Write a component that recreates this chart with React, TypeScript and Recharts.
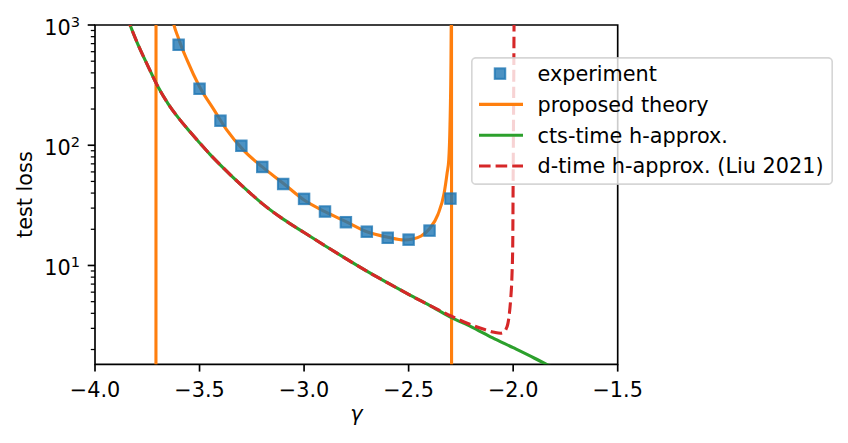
import React from 'react';
import { ComposedChart, Line, Scatter, XAxis, YAxis, ReferenceArea, Legend } from 'recharts';

const FONT = '"DejaVu Sans", sans-serif';
const FS = 20.8;

// experiment (squares)
const expGamma = [-3.6, -3.5, -3.4, -3.3, -3.2, -3.1, -3.0, -2.9, -2.8, -2.7, -2.6, -2.5, -2.4, -2.3];
const expLoss = [685, 295, 160, 99, 66, 47.6, 35.8, 28.1, 22.9, 19.1, 17.0, 16.4, 19.5, 36];

// proposed theory (poles near -3.708 and -2.295)
const theoryGamma = [
  -3.7085, -3.708, -3.63, -3.6, -3.56, -3.5, -3.43, -3.37, -3.29, -3.2, -3.1, -3.0, -2.9, -2.8,
  -2.7, -2.6, -2.52, -2.48, -2.44, -2.4, -2.36, -2.33, -2.316, -2.308, -2.302, -2.298, -2.296,
  -2.295, -2.2945,
];
const theoryLoss = [
  0.5, 50000, 1150, 770, 512, 307, 196, 134, 91, 66, 48.3, 35, 28, 23.2,
  19.1, 17.2, 16.3, 16.6, 17.6, 20.2, 26.5, 40, 58.5, 75.5, 150, 400, 1200,
  50000, 0.5,
];

// cts-time h-approx.
const ctsGamma = [
  -3.85, -3.8, -3.75, -3.7, -3.65, -3.6, -3.55, -3.5, -3.45, -3.4, -3.35, -3.3, -3.25, -3.2,
  -3.1, -3.0, -2.9, -2.8, -2.7, -2.6, -2.5, -2.4, -2.3, -2.2, -2.1, -2.0, -1.9, -1.8,
];
const ctsLoss = [
  1200, 725, 468, 309, 221, 168, 132, 105, 84, 68.4, 56.2, 46.6, 38.9, 32.7,
  24.3, 18.8, 14.6, 11.4, 8.97, 7.16, 5.75, 4.66, 3.72, 3.09, 2.51, 2.07, 1.7, 1.38,
];

// d-time h-approx. (Liu 2021)
const dtGamma = [
  -3.85, -3.8, -3.75, -3.7, -3.65, -3.6, -3.55, -3.5, -3.45, -3.4, -3.35, -3.3, -3.25, -3.2,
  -3.1, -3.0, -2.9, -2.8, -2.7, -2.6, -2.5, -2.4, -2.35, -2.3, -2.22, -2.14, -2.09, -2.06,
  -2.045, -2.036, -2.025, -2.018, -2.012, -2.006, -2.002, -2.0, -1.997, -1.995,
];
const dtLoss = [
  1200, 725, 468, 309, 221, 168, 132, 105, 84, 68.4, 56.2, 46.6, 38.9, 32.7,
  24.3, 18.8, 14.6, 11.4, 8.97, 7.16, 5.75, 4.66, 4.22, 3.82, 3.31, 2.95, 2.78, 2.73,
  2.78, 2.91, 3.3, 4.0, 5.2, 8, 15, 55, 400, 2000,
];

const xTicks = [-4.0, -3.5, -3.0, -2.5, -2.0, -1.5];
const yMajorTicks = [10, 100, 1000];
const yMinorTicks = [2, 3, 4, 5, 6, 7, 8, 9, 20, 30, 40, 50, 60, 70, 80, 90, 200, 300, 400, 500, 600, 700, 800, 900];
const yTicks = [...yMinorTicks, ...yMajorTicks].sort((a, b) => a - b);
const yExponent: Record<number, string> = { 10: '1', 100: '2', 1000: '3' };

const zip = (xs: number[], ys: number[]) => xs.map((x, i) => ({ x, y: ys[i] }));
const expData = zip(expGamma, expLoss);
const theoryData = zip(theoryGamma, theoryLoss);
const ctsData = zip(ctsGamma, ctsLoss);
const dtData = zip(dtGamma, dtLoss);

const BLUE = '#1f77b4';
const ORANGE = '#ff7f0e';
const GREEN = '#2ca02c';
const RED = '#d62728';
const LW = 3.1;
const DASH = '11.6 5';

const XTick = (props: any) => {
  const { x, y, payload } = props;
  const label = Number(payload.value).toFixed(1).replace('-', '\u2212');
  return (
    <g>
      <line x1={x} x2={x} y1={y} y2={y + 7.3} stroke="#000" strokeWidth={1.67} />
      <text x={x} y={y + 32.8} textAnchor="middle" fontFamily={FONT} fontSize={FS} fill="#000">
        {label}
      </text>
    </g>
  );
};

const YTick = (props: any) => {
  const { x, y, payload } = props;
  const v = payload.value;
  const major = yMajorTicks.includes(v);
  if (!major) {
    return <line x1={x - 4.2} x2={x} y1={y} y2={y} stroke="#000" strokeWidth={1.25} />;
  }
  return (
    <g>
      <line x1={x - 7.3} x2={x} y1={y} y2={y} stroke="#000" strokeWidth={1.67} />
      <text x={x - 15} y={y + 9.7} textAnchor="end" fontFamily={FONT} fontSize={FS} fill="#000">
        <tspan>10</tspan>
        <tspan dy={-7.7} fontSize={14.6}>{yExponent[v]}</tspan>
      </text>
    </g>
  );
};

const XLabel = (props: any) => {
  const { x, y, width } = props.viewBox;
  return (
    <text x={x + width / 2} y={y + 56.5} textAnchor="middle" fontFamily={FONT} fontStyle="italic" fontSize={FS} fill="#000">
      γ
    </text>
  );
};

const YLabel = (props: any) => {
  const { x, y, height } = props.viewBox;
  const cx = x + 31.7;
  const cy = y + height / 2;
  return (
    <text x={cx} y={cy} transform={`rotate(-90 ${cx} ${cy})`} textAnchor="middle" fontFamily={FONT} fontSize={FS} fill="#000">
      test loss
    </text>
  );
};

const SquareMarker = (props: any) => {
  const { cx, cy } = props;
  return (
    <rect x={cx - 5.25} y={cy - 5.25} width={10.5} height={10.5} fill={BLUE} fillOpacity={0.8} stroke={BLUE} strokeOpacity={0.8} strokeWidth={2} />
  );
};

const legendItems = [
  { label: 'experiment', kind: 'square', color: BLUE },
  { label: 'proposed theory', kind: 'line', color: ORANGE },
  { label: 'cts-time h-approx.', kind: 'line', color: GREEN },
  { label: 'd-time h-approx. (Liu 2021)', kind: 'dash', color: RED },
];

const LegendBox = () => (
  <svg width={362} height={128} style={{ display: 'block' }}>
    <rect x={0.8} y={0.8} width={360.4} height={126.4} rx={4} fill="#fff" fillOpacity={0.8} stroke="#cccccc" strokeOpacity={0.8} strokeWidth={1.67} />
    {legendItems.map((item, i) => {
      const cy = 16.6 + i * 30.8;
      return (
        <g key={item.label}>
          {item.kind === 'square' ? (
            <rect x={29 - 5.25} y={cy - 5.25} width={10.5} height={10.5} fill={item.color} fillOpacity={0.8} stroke={item.color} strokeOpacity={0.8} strokeWidth={2} />
          ) : (
            <line x1={8} x2={52} y1={cy} y2={cy} stroke={item.color} strokeWidth={LW} strokeDasharray={item.kind === 'dash' ? DASH : undefined} />
          )}
          <text x={66.5} y={cy + 7.4} fontFamily={FONT} fontSize={FS} fill="#000">
            {item.label}
          </text>
        </g>
      );
    })}
  </svg>
);

export default function App() {
  return (
    <div style={{ position: 'absolute', left: 0, top: 0, width: 848, height: 443, background: '#fff' }}>
      <ComposedChart width={848} height={443} margin={{ top: 25, right: 230.3, bottom: 0, left: 0 }}>
        <XAxis
          type="number"
          dataKey="x"
          domain={[-4, -1.5]}
          ticks={xTicks}
          interval={0}
          allowDataOverflow
          axisLine={false}
          tickLine={false}
          tickSize={0}
          tickMargin={0}
          height={78.7}
          tick={XTick}
          label={XLabel}
        />
        <YAxis
          type="number"
          dataKey="y"
          scale="log"
          domain={[1.507, 1000]}
          ticks={yTicks}
          interval={0}
          allowDataOverflow
          axisLine={false}
          tickLine={false}
          tickSize={0}
          tickMargin={0}
          width={95}
          tick={YTick}
          label={YLabel}
        />
        <Scatter data={expData} fill={BLUE} shape={SquareMarker} isAnimationActive={false} />
        <Line data={theoryData} dataKey="y" type="monotone" stroke={ORANGE} strokeWidth={LW} dot={false} activeDot={false} isAnimationActive={false} />
        <Line data={ctsData} dataKey="y" type="monotone" stroke={GREEN} strokeWidth={LW} dot={false} activeDot={false} isAnimationActive={false} />
        <Line data={dtData} dataKey="y" type="monotone" stroke={RED} strokeWidth={LW} strokeDasharray={DASH} dot={false} activeDot={false} isAnimationActive={false} />
        <ReferenceArea x1={-4} x2={-1.5} y1={1.507} y2={1000} fill="none" fillOpacity={0} stroke="#000" strokeWidth={1.67} ifOverflow="visible" />
        <Legend
          layout="vertical"
          align="center"
          verticalAlign="middle"
          content={() => <LegendBox />}
          wrapperStyle={{ left: 471, top: 56.7, width: 362, height: 128, margin: 0, padding: 0 }}
        />
      </ComposedChart>
    </div>
  );
}
